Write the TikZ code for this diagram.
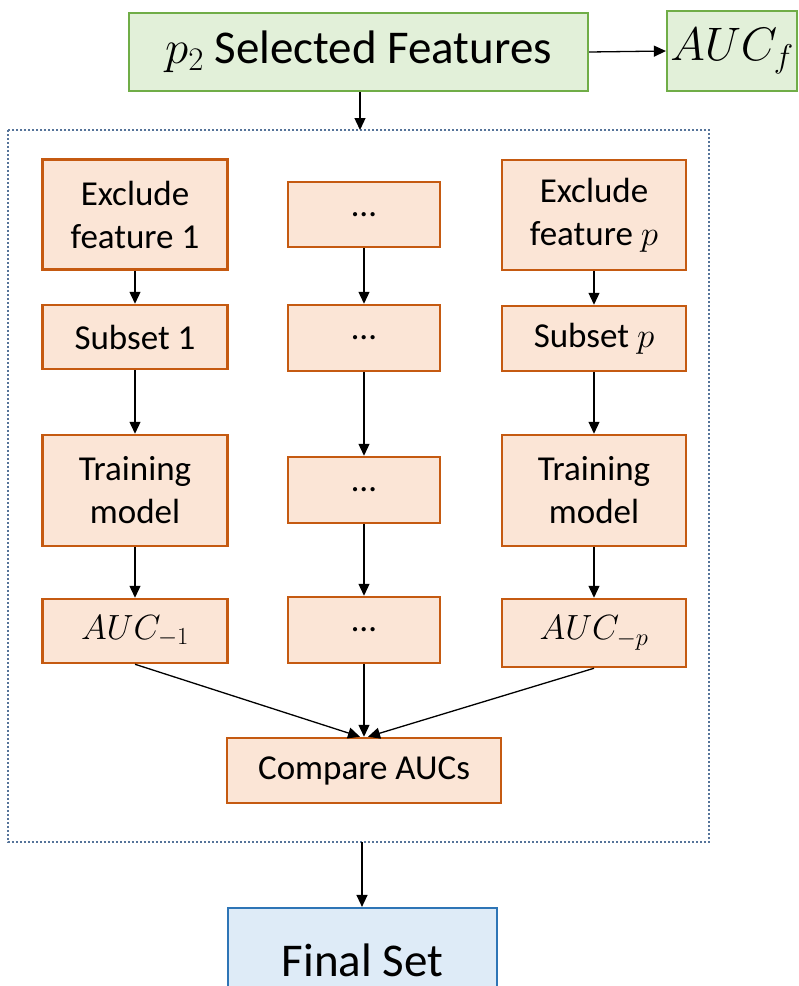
\RequirePackage{fix-cm}
\documentclass[tikz,border=0pt]{standalone}
\usepackage{fontspec}
\setmainfont{Carlito}
\usetikzlibrary{arrows.meta}
\definecolor{orfill}{HTML}{FBE5D6}
\definecolor{ordraw}{HTML}{C55A11}
\definecolor{grfill}{HTML}{E2F0D9}
\definecolor{grdraw}{HTML}{70AD47}
\definecolor{blfill}{HTML}{DEEBF7}
\definecolor{bldraw}{HTML}{2E75B6}
\definecolor{framecol}{HTML}{56749A}
\tikzset{
  obox/.style={draw=ordraw, fill=orfill, line width=2.5pt, inner sep=0pt, align=center,
    font=\fontsize{35}{43}\selectfont},
  gbox/.style={draw=grdraw, fill=grfill, line width=2.2pt, inner sep=0pt, align=center,
    font=\fontsize{47}{56}\selectfont},
  bbox/.style={draw=bldraw, fill=blfill, line width=2.2pt, inner sep=0pt, align=center,
    font=\fontsize{47}{56}\selectfont},
  arr/.style={-{Triangle[length=12pt,width=11pt]}, line width=1.3pt, black},
  lcol/.style={obox, minimum width=185pt},
  mcol/.style={obox, minimum width=152pt},
  rcol/.style={obox, minimum width=184pt},
}
\begin{document}
\begin{tikzpicture}[x=1pt,y=-1pt]
\useasboundingbox (0,0) rectangle (799,986);
\fill[white] (0,0) rectangle (799,986);
% frame
\draw[framecol, line width=2pt, dotted] (8,130) rectangle (709,842);
\coordinate (ftop) at (360,130);
\coordinate (fbot) at (362,842);
% top
\node[gbox, minimum width=459pt, minimum height=78pt] (top) at (358.5,52) {$p_2$ Selected Features};
\node[gbox, minimum width=130pt, minimum height=80pt] (aucf) at (732,51) {$AUC_f$};
% left column
\node[lcol, minimum height=110pt] (e1) at (135,214.5) {Exclude\\feature 1};
\node[lcol, minimum height=64pt] (s1) at (135,337) {Subset 1};
\node[lcol, minimum height=111pt] (t1) at (135,490.5) {Training\\model};
\node[lcol, minimum height=64pt] (a1) at (135,631) {$AUC_{-1}$};
% middle column
\node[mcol, minimum height=65pt] (m1) at (364,214.5) {…};
\node[mcol, minimum height=66pt] (m2) at (364,338) {…};
\node[mcol, minimum height=66pt] (m3) at (364,490) {…};
\node[mcol, minimum height=66pt] (m4) at (364,630) {…};
% right column
\node[rcol, minimum height=110pt] (ep) at (594,215) {Exclude\\feature $p$};
\node[rcol, minimum height=65pt] (sp) at (594,338.5) {Subset $p$};
\node[rcol, minimum height=111pt] (tp) at (594,490.5) {Training\\model};
\node[rcol, minimum height=68pt] (ap) at (594,633) {$AUC_{-p}$};
% compare and final
\node[obox, minimum width=274pt, minimum height=65pt] (cmp) at (364,770.5) {Compare AUCs};
\node[bbox, minimum width=269pt, minimum height=104pt] (fin) at (362.5,960) {Final Set};
% connectors
\draw[arr] (top.east) -- (aucf.west);
\draw[arr] (top.south -| ftop) -- (ftop);
\draw[arr] (e1) -- (s1);
\draw[arr] (s1) -- (t1);
\draw[arr] (t1) -- (a1);
\draw[arr] (m1) -- (m2);
\draw[arr] (m2) -- (m3);
\draw[arr] (m3) -- (m4);
\draw[arr] (ep) -- (sp);
\draw[arr] (sp) -- (tp);
\draw[arr] (tp) -- (ap);
\draw[arr] (a1.south) -- ([xshift=-4pt]cmp.north);
\draw[arr] (m4.south) -- (cmp.north);
\draw[arr] (ap.south) -- ([xshift=4pt]cmp.north);
\draw[arr] (fbot) -- (fin.north -| fbot);
\end{tikzpicture}
\end{document}
